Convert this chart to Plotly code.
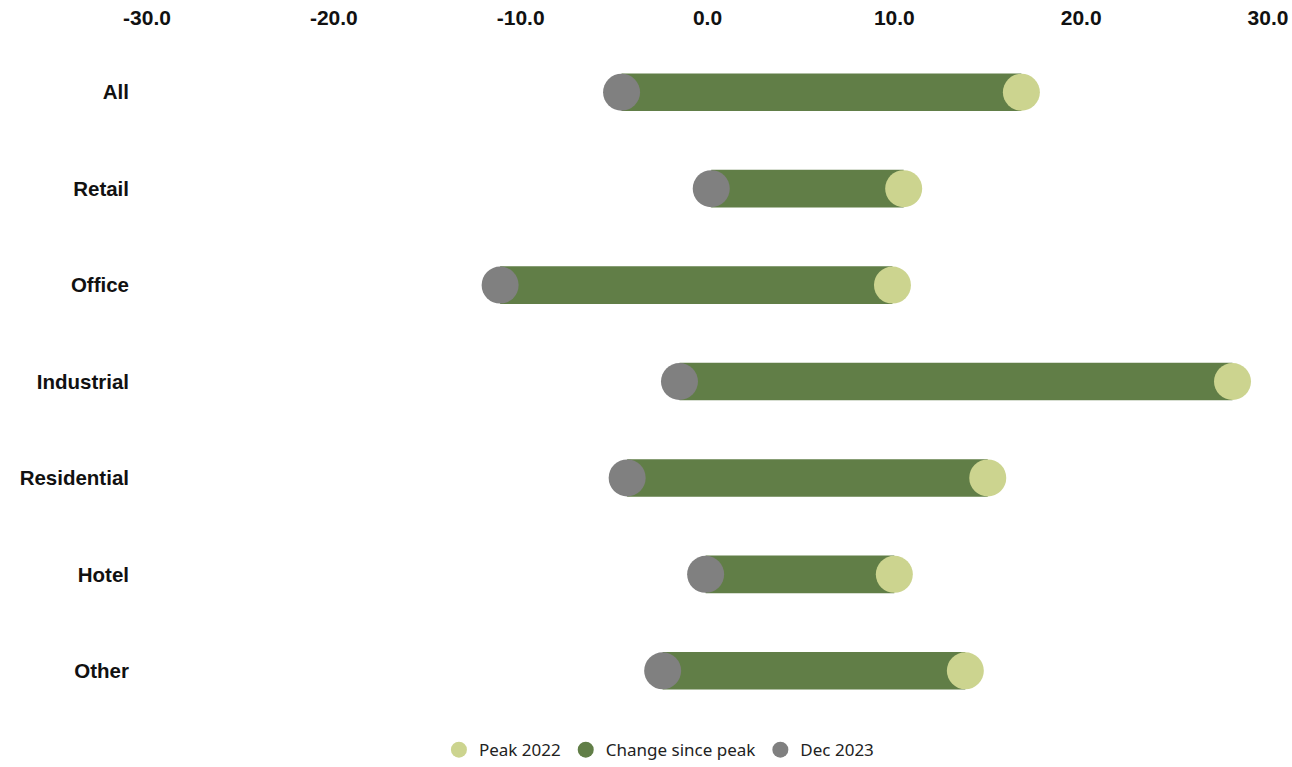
import plotly.graph_objects as go

categories = ["All", "Retail", "Office", "Industrial", "Residential", "Hotel", "Other"]
peak_2022 = [16.8, 10.5, 9.9, 28.1, 15.0, 10.0, 13.8]
dec_2023 = [-4.6, 0.2, -11.1, -1.5, -4.3, -0.1, -2.4]
change_since_peak = [d - p for d, p in zip(dec_2023, peak_2022)]
tick_vals = [-30, -20, -10, 0, 10, 20, 30]
tick_text = ["-30.0", "-20.0", "-10.0", "0.0", "10.0", "20.0", "30.0"]

GREEN = "#617E47"
LIGHT = "#CCD48F"
GREY = "#808080"

fig = go.Figure()
fig.add_trace(go.Bar(
    y=categories, x=change_since_peak, base=peak_2022, orientation="h",
    marker=dict(color=GREEN, line=dict(width=0)), width=0.39,
    name="Change since peak", showlegend=False, hoverinfo="skip"))
fig.add_trace(go.Scatter(
    y=categories, x=peak_2022, mode="markers",
    marker=dict(color=LIGHT, size=37), name="Peak 2022", showlegend=False))
fig.add_trace(go.Scatter(
    y=categories, x=dec_2023, mode="markers",
    marker=dict(color=GREY, size=37), name="Dec 2023", showlegend=False))

# legend entries
for nm, col in [("Peak 2022", LIGHT), ("Change since peak", GREEN), ("Dec 2023", GREY)]:
    fig.add_trace(go.Scatter(x=[None], y=[None], mode="markers", name=nm,
                             marker=dict(color=col, size=17), showlegend=True))

fig.update_layout(
    width=1292, height=767,
    margin=dict(l=147, r=24, t=44, b=48, autoexpand=False),
    plot_bgcolor="white", paper_bgcolor="white",
    barmode="overlay",
    showlegend=True,
    legend=dict(orientation="h", x=0.51, xanchor="center", xref="container",
                y=0.022, yanchor="middle", yref="container",
                font=dict(family="Noto Sans, Open Sans, sans-serif", size=17, color="#222"),
                itemsizing="trace", traceorder="normal", itemwidth=30,
                bgcolor="rgba(0,0,0,0)"),
    xaxis=dict(range=[-30, 30], side="top", tickvals=tick_vals, ticktext=tick_text,
               showgrid=False, zeroline=False, showline=False,
               ticks="", ticklen=0, ticklabelstandoff=14,
               tickfont=dict(family="Liberation Sans, Arial, sans-serif", size=21,
                             color="#111", weight="bold")),
    yaxis=dict(categoryorder="array", categoryarray=categories, range=[6.5, -0.5],
               showgrid=False, zeroline=False, showline=False, ticks="",
               ticklabelstandoff=17,
               tickfont=dict(family="Liberation Sans, Arial, sans-serif", size=20.5,
                             color="#111", weight="bold")),
)

fig.write_html("out.html")
